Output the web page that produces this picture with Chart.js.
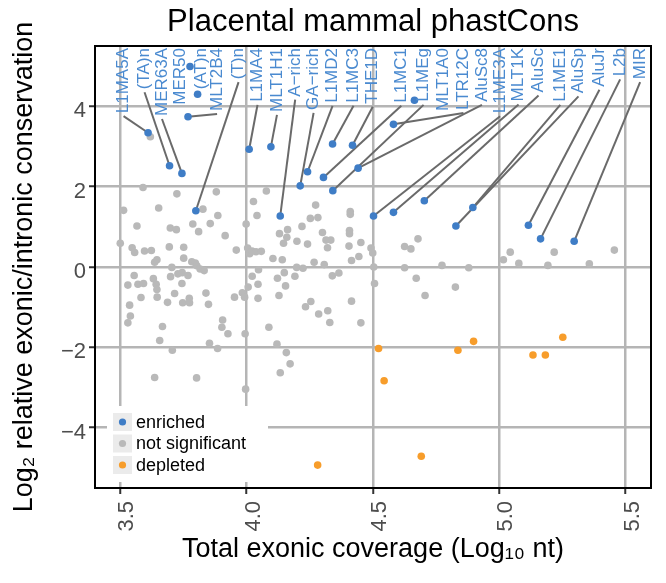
<!DOCTYPE html>
<html>
<head>
<meta charset="utf-8">
<script src="https://cdn.jsdelivr.net/npm/chart.js@4.4.1/dist/chart.umd.min.js"></script>
<style>
  html, body { margin: 0; padding: 0; background: #fff; }
</style>
</head>
<body>
<canvas id="phast_chart" width="666" height="583"></canvas>
<script>
// enriched families, left to right as their labels run along the top
const enrichedNames = ['L1MA5A', '(TA)n', 'MER63A', 'MER50', '(AT)n', 'MLT2B4', '(T)n', 'L1MA4', 'MLT1H1',
  'A\u2212rich', 'GA\u2212rich', 'L1MD2', 'L1MC3', 'THE1D', 'L1MC1', 'L1MEg', 'MLT1A0', 'LTR12C', 'AluSc8',
  'L1ME3A', 'MLT1K', 'AluSc', 'L1ME1', 'AluSp', 'AluJr', 'L2b', 'MIR'];
const enrichedX = [3.610, 3.695, 3.744, 3.776, 3.806, 3.768, 3.799, 4.010, 4.096, 4.133, 4.212, 4.241, 4.340, 4.419,
  4.304, 4.341, 4.664, 4.581, 4.441, 4.502, 4.581, 4.703, 4.895, 4.828, 5.115, 5.163, 5.296];
const enrichedY = [3.34, 2.52, 2.33, 4.99, 4.30, 3.74, 1.40, 2.93, 2.99, 1.27, 2.02, 2.37, 3.06, 3.03,
  2.23, 1.90, 4.15, 3.55, 2.46, 1.27, 1.36, 1.65, 1.48, 1.02, 1.04, 0.70, 0.64];
// x (log10 nt) where each repelled label sits
const labelX = [3.513, 3.596, 3.665, 3.737, 3.820, 3.883, 3.968, 4.043, 4.120, 4.192, 4.265, 4.340, 4.423, 4.499,
  4.612, 4.700, 4.779, 4.858, 4.931, 5.003, 5.076, 5.155, 5.241, 5.313, 5.396, 5.478, 5.557];

const depletedX = [4.281, 4.522, 4.544, 4.691, 4.836, 4.898, 5.133, 5.182, 5.251];
const depletedY = [-4.93, -2.03, -2.83, -4.71, -2.07, -1.85, -2.19, -2.19, -1.75];

const otherX = [3.590, 3.724, 3.880, 4.078, 3.513, 3.652, 3.827, 4.027, 4.273, 4.410, 4.410, 4.041, 4.252, 4.282,
  3.566, 3.698, 3.722, 3.787, 3.856, 3.886, 3.998, 3.810, 3.915, 4.130, 4.162, 4.219, 4.159, 4.146, 4.199, 4.241,
  4.300, 4.407, 4.407, 4.314, 4.333, 4.320, 4.452, 4.405, 4.492, 4.499, 3.500, 3.547, 3.557, 3.596, 3.623, 3.694,
  3.751, 3.636, 3.645, 3.751, 3.704, 3.783, 3.797, 3.803, 3.816, 3.832, 3.959, 4.004, 4.012, 4.021, 4.037, 4.058,
  4.104, 4.141, 4.047, 4.022, 4.006, 4.045, 4.045, 4.122, 4.149, 4.154, 4.191, 4.198, 4.223, 4.267, 4.307, 4.339,
  4.365, 4.415, 4.444, 4.503, 4.506, 3.555, 3.530, 3.570, 3.592, 3.631, 3.642, 3.645, 3.646, 3.699, 3.728, 3.745,
  3.768, 3.744, 3.715, 3.839, 3.582, 3.687, 3.747, 3.773, 3.774, 3.849, 3.952, 3.983, 3.992, 4.128, 4.233, 4.254,
  4.285, 4.321, 4.329, 4.415, 4.452, 3.537, 3.540, 3.530, 3.667, 3.905, 3.902, 3.926, 3.994, 4.088, 3.656, 3.853,
  3.885, 3.706, 4.120, 4.157, 3.636, 3.802, 4.133, 4.172, 3.996, 4.625, 4.650, 4.678, 4.625, 4.773, 4.879, 4.671,
  4.706, 4.826, 5.016, 5.043, 5.077, 5.192, 5.217, 5.356, 5.455, 3.619];
const otherY = [1.98, 1.82, 1.87, 1.89, 1.41, 1.47, 1.44, 1.63, 1.54, 1.38, 1.31, 1.28, 1.21, 1.23,
  1.02, 0.97, 0.93, 1.07, 1.08, 1.28, 1.07, 0.88, 0.78, 0.83, 0.93, 1.01, 0.74, 0.59, 0.64, 0.57,
  0.86, 0.91, 0.83, 0.67, 0.67, 0.48, 0.61, 0.52, 0.47, 0.35, 0.59, 0.48, 0.36, 0.40, 0.41, 0.50,
  0.49, 0.12, 0.18, 0.22, -0.01, 0.13, 0.10, 0.03, -0.05, -0.09, 0.42, 0.47, 0.33, 0.40, 0.38, 0.39,
  0.21, 0.18, -0.07, -0.23, -0.50, -0.43, -0.78, -0.28, -0.14, -0.47, -0.23, -0.01, -0.03, 0.12, 0.06, -0.22,
  -0.15, 0.16, 0.26, 0.00, -0.41, -0.21, -0.45, -0.43, -0.41, -0.29, -0.43, -0.56, -0.75, -0.24, -0.17, -0.14,
  -0.21, -0.41, -0.66, -0.65, -0.76, -0.88, -0.89, -0.78, -0.89, -0.93, -0.75, -0.64, -0.75, -0.71, -0.99, -0.86,
  -1.17, -1.09, -1.38, -0.85, -1.39, -0.95, -1.22, -1.39, -1.48, -1.32, -1.50, -1.66, -1.66, -1.50, -1.83, -1.90,
  -2.03, -2.07, -1.92, -2.13, -2.75, -2.76, -2.63, -2.41, -3.04, 0.51, 0.45, 0.70, -0.02, 0.04, -0.02, -0.28,
  -0.71, -0.50, 0.18, 0.37, 0.09, 0.04, 0.37, 0.08, 0.42, 3.24];

const xTicks = [3.5, 4.0, 4.5, 5.0, 5.5];
const yTicks = [-4, -2, 0, 2, 4];

const BLUE = '#3f7dc6';
const GREY = '#b9b9b9';
const ORANGE = '#f79d2b';
const FONT = '"Liberation Sans", Arial, Helvetica, sans-serif';

function pts(xs, ys) {
  return xs.map((v, i) => ({ x: v, y: ys[i] }));
}

// ggrepel-like labels, the panel frame and the inset legend
const repelLabels = {
  id: 'repelLabels',
  beforeDatasetsDraw(chart) {
    const { ctx, chartArea: a, scales: { x, y } } = chart;
    ctx.save();
    ctx.strokeStyle = '#000';
    ctx.lineWidth = 2;
    ctx.strokeRect(a.left, a.top, a.right - a.left, a.bottom - a.top);

    ctx.font = '17px ' + FONT;
    ctx.strokeStyle = '#6a6a6a';
    ctx.lineWidth = 2;
    enrichedNames.forEach((name, i) => {
      const lx = x.getPixelForValue(labelX[i]);
      const bottom = a.top + 2 + ctx.measureText(name).width + 3;
      const px = x.getPixelForValue(enrichedX[i]);
      const py = y.getPixelForValue(enrichedY[i]);
      if (py < bottom + 2) return;
      ctx.beginPath();
      ctx.moveTo(lx, bottom);
      ctx.lineTo(px, py);
      ctx.stroke();
    });
    ctx.restore();
  },
  afterDatasetsDraw(chart) {
    const { ctx, chartArea: a, scales: { x } } = chart;
    ctx.save();
    ctx.font = '17px ' + FONT;
    ctx.fillStyle = '#4a8ad0';
    ctx.textAlign = 'right';
    ctx.textBaseline = 'middle';
    enrichedNames.forEach((name, i) => {
      ctx.save();
      ctx.translate(x.getPixelForValue(labelX[i]), a.top + 2);
      ctx.rotate(-Math.PI / 2);
      ctx.fillText(name, 0, 0);
      ctx.restore();
    });

    // legend, bottom-left inside the panel
    const sets = chart.data.datasets;
    ctx.fillStyle = '#fff';
    ctx.fillRect(a.left + 12, a.bottom - 82, 161, 76);
    ctx.font = '18px ' + FONT;
    ctx.textAlign = 'left';
    sets.forEach((d, i) => {
      const cy = a.bottom - 66 + i * 21.5;
      ctx.fillStyle = '#ebebeb';
      ctx.fillRect(a.left + 18, cy - 9, 19, 18);
      ctx.fillStyle = d.backgroundColor;
      ctx.beginPath();
      ctx.arc(a.left + 27.5, cy, 3.6, 0, Math.PI * 2);
      ctx.fill();
      ctx.fillStyle = '#000';
      ctx.fillText(d.label, a.left + 41, cy + 1);
    });
    ctx.restore();
  }
};

const ctx = document.getElementById('phast_chart').getContext('2d');
const phast_chart = new Chart(ctx, {
  type: 'scatter',
  data: {
    datasets: [
      { label: 'enriched', data: pts(enrichedX, enrichedY), backgroundColor: BLUE },
      { label: 'not significant', data: pts(otherX, otherY), backgroundColor: GREY },
      { label: 'depleted', data: pts(depletedX, depletedY), backgroundColor: ORANGE }
    ]
  },
  options: {
    responsive: false,
    animation: false,
    layout: { padding: { left: 0, right: 15, top: 0, bottom: 0 } },
    elements: { point: { radius: 3.8, borderWidth: 0, hoverRadius: 3.8 } },
    plugins: {
      legend: { display: false },
      tooltip: { enabled: false },
      title: {
        display: true,
        text: 'Placental mammal phastCons',
        fullSize: false,
        color: '#000',
        font: { family: FONT, size: 31, weight: 'normal' },
        padding: { top: 3.4, bottom: 5.4 }
      }
    },
    scales: {
      x: {
        type: 'linear',
        min: 3.4,
        max: 5.6,
        afterBuildTicks: s => { s.ticks = xTicks.map(v => ({ value: v })); },
        afterFit: s => { s.height = 95; },
        border: { display: false },
        grid: { color: '#b5b5b5', lineWidth: 2.5, tickLength: 6, tickColor: '#333', tickWidth: 2 },
        ticks: {
          autoSkip: false,
          minRotation: 90,
          maxRotation: 90,
          padding: 7,
          labelOffset: 7,
          color: '#4d4d4d',
          font: { family: FONT, size: 22 },
          callback: v => v.toFixed(1)
        },
        title: {
          display: true,
          text: 'Total exonic coverage (Log\u2081\u2080 nt)',
          color: '#000',
          font: { family: FONT, size: 27 },
          padding: { top: 4, bottom: 17 }
        }
      },
      y: {
        type: 'linear',
        min: -5.5,
        max: 5.5,
        afterBuildTicks: s => { s.ticks = yTicks.map(v => ({ value: v })); },
        afterFit: s => { s.width = 95; },
        border: { display: false },
        grid: { color: '#b5b5b5', lineWidth: 2.5, tickLength: 6, tickColor: '#333', tickWidth: 2 },
        ticks: {
          padding: 3,
          labelOffset: 5,
          color: '#4d4d4d',
          font: { family: FONT, size: 22 },
          callback: v => (v < 0 ? '\u2212' + Math.abs(v) : String(v))
        },
        title: {
          display: true,
          text: 'Log\u2082 relative exonic/intronic conservation',
          color: '#000',
          font: { family: FONT, size: 27 },
          padding: { top: 8, bottom: 4 }
        }
      }
    }
  },
  plugins: [repelLabels]
});
</script>
</body>
</html>
